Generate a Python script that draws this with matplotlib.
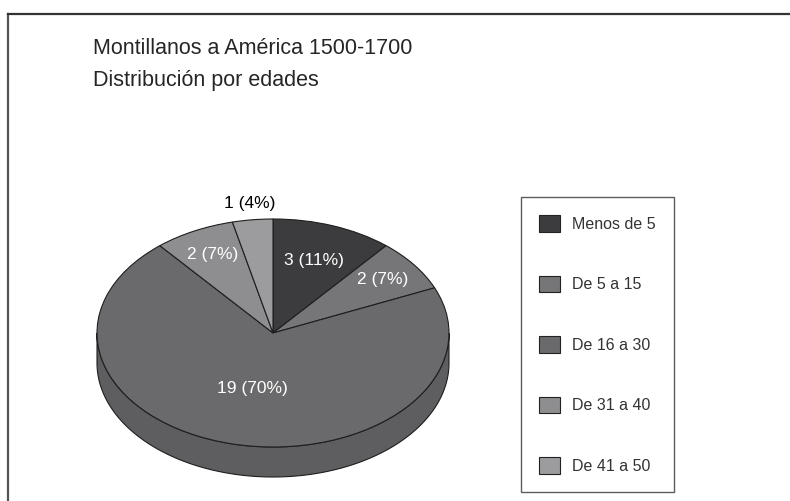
import numpy as np
import matplotlib
matplotlib.use("Agg")
import matplotlib.pyplot as plt
from matplotlib.patches import Patch
from matplotlib.lines import Line2D

plt.rcParams['font.family'] = ['Liberation Sans', 'DejaVu Sans']

title_lines = ["Montillanos a América 1500-1700", "Distribución por edades"]
categories = ["Menos de 5", "De 5 a 15", "De 16 a 30", "De 31 a 40", "De 41 a 50"]
counts = [3, 2, 19, 2, 1]
colors = ["#3c3c3e", "#767679", "#6a6a6c", "#8e8e90", "#9c9c9e"]

# label placement along each wedge's mid angle (fraction of radius)
label_radius = [0.68, 0.78, 0.50, 0.77, 1.14]
label_colors = ["white", "white", "white", "white", "black"]

W, H = 790, 501
fig = plt.figure(figsize=(W / 100, H / 100), dpi=100)

# pie geometry in pixels: centre, half axes, thickness
cx, cy, rx, ry, depth = 273, 333, 176, 114, 30

ax = fig.add_axes([0, 0, 1, 1])
total = sum(counts)
wedges, _ = ax.pie(counts, colors=colors, startangle=90, counterclock=False,
                   wedgeprops=dict(edgecolor="#1e1e1e", linewidth=0.8))
ax.set_aspect("auto")
ax.set_xlim(-cx / rx, (W - cx) / rx)
ax.set_ylim((cy - H) / ry, cy / ry)
ax.axis("off")

# side wall of the disc (front half only, angles clockwise from top)
d = depth / ry
edges = np.concatenate([[0], np.cumsum(counts) / total * 360])
for i, c in enumerate(colors):
    a0, a1 = max(edges[i], 90), min(edges[i + 1], 270)
    if a1 <= a0:
        continue
    a = np.radians(np.linspace(a0, a1, 200))
    xs, ys = np.sin(a), np.cos(a)
    px = np.concatenate([xs, xs[::-1]])
    py = np.concatenate([ys, ys[::-1] - d])
    rgb = np.array(matplotlib.colors.to_rgb(c)) * 0.89
    ax.fill(px, py, color=rgb, edgecolor="#1e1e1e", linewidth=0.8, zorder=0.5)

# value labels
for i, v in enumerate(counts):
    mid = np.radians((edges[i] + edges[i + 1]) / 2)
    r = label_radius[i]
    pct = round(v / total * 100)
    ax.text(r * np.sin(mid), r * np.cos(mid), f"{v} ({pct}%)",
            ha="center", va="center", fontsize=12.5, color=label_colors[i])

# title
for k, line in enumerate(title_lines):
    fig.text(93 / W, 1 - (54 + 32 * k) / H, line, va="baseline", ha="left",
             fontsize=15.5, color="#262626")

# legend
handles = [Patch(facecolor=c, edgecolor="#222222", linewidth=0.8) for c in colors]
leg = fig.legend(handles, categories, loc="upper left",
                 bbox_to_anchor=(521 / W, 1 - 197 / H), borderaxespad=0,
                 fontsize=11.5, frameon=True, fancybox=False, edgecolor="#333333",
                 borderpad=1.15, labelspacing=2.75, handlelength=1.3,
                 handleheight=1.2, handletextpad=0.75)
leg.get_frame().set_linewidth(1.0)
for t in leg.get_texts():
    t.set_color("#333333")

# outer frame (open towards the right and bottom)
fig.add_artist(Line2D([8 / W, 8 / W], [0, 1 - 14 / H], color="#555555",
                      linewidth=1.6, transform=fig.transFigure))
fig.add_artist(Line2D([8 / W, 1], [1 - 14 / H, 1 - 14 / H], color="#333333",
                      linewidth=1.6, transform=fig.transFigure))

fig.savefig("out.png", dpi=100)
